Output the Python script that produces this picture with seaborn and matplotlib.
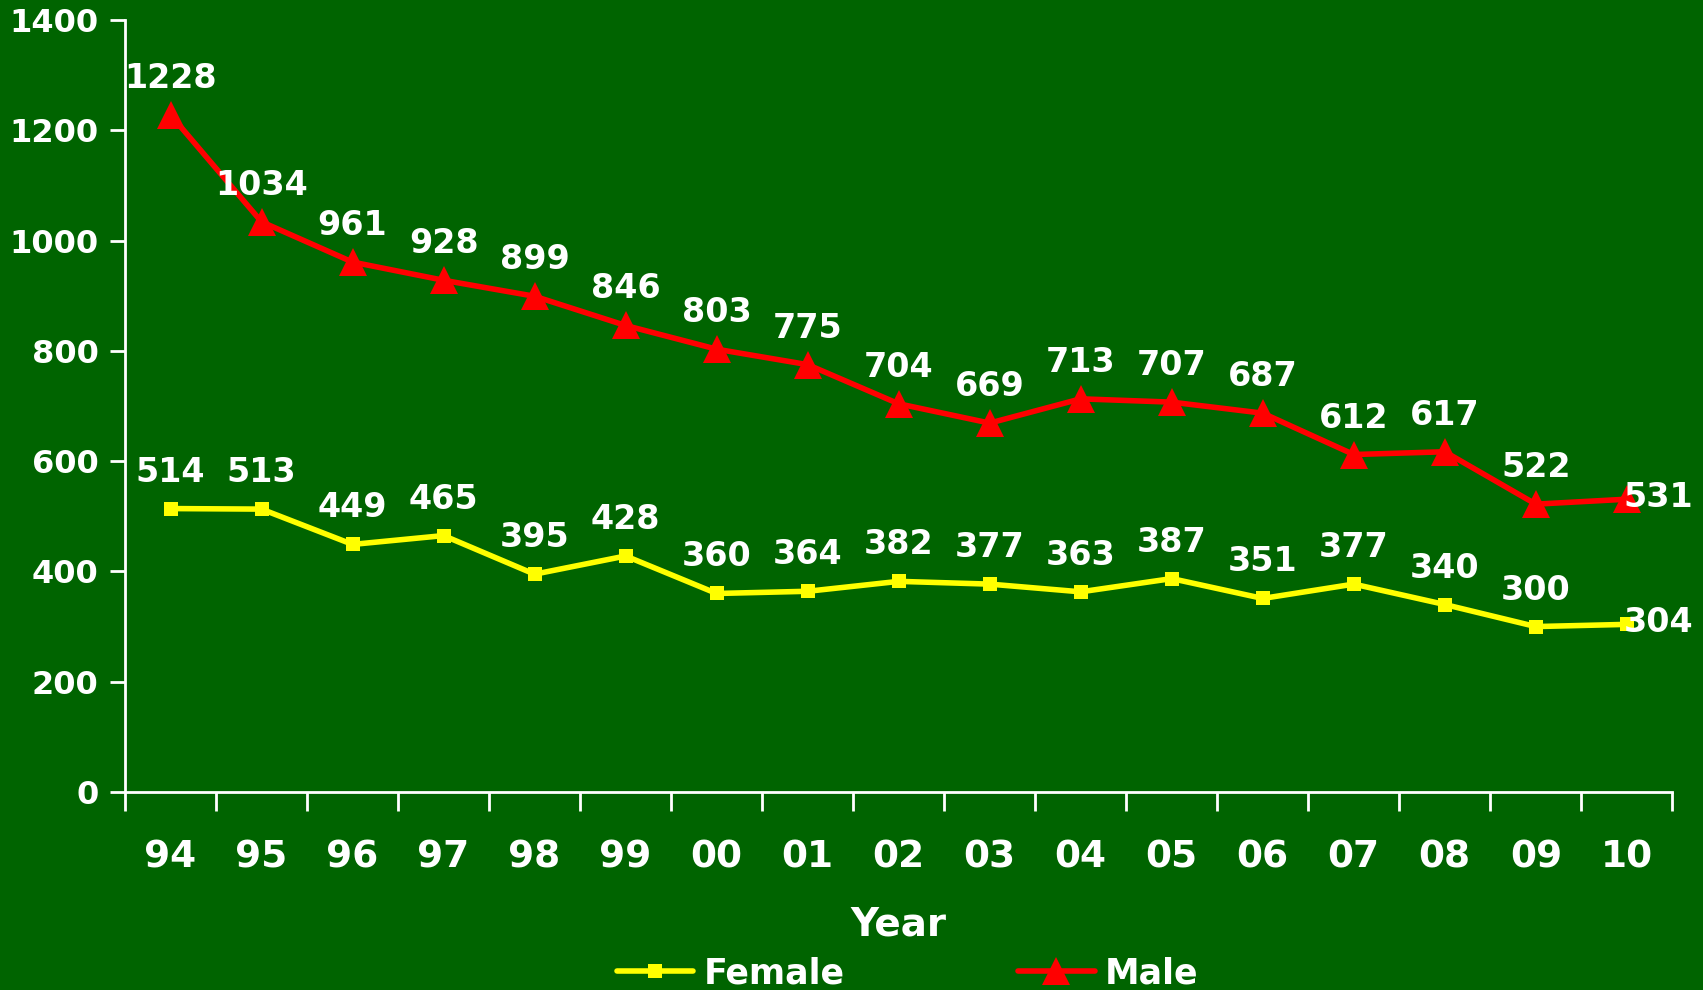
import numpy as np
import pandas as pd
import matplotlib.pyplot as plt
import seaborn as sns

# data
years = ['94', '95', '96', '97', '98', '99', '00', '01', '02', '03',
         '04', '05', '06', '07', '08', '09', '10']
female = [514, 513, 449, 465, 395, 428, 360, 364, 382, 377,
          363, 387, 351, 377, 340, 300, 304]
male = [1228, 1034, 961, 928, 899, 846, 803, 775, 704, 669,
        713, 707, 687, 612, 617, 522, 531]

bg = '#006400'
sns.set_theme(style='white')
plt.rcParams['font.family'] = ['DejaVu Sans']
plt.rcParams['font.weight'] = 'bold'

fig = plt.figure(figsize=(17.03, 9.9), dpi=100, facecolor=bg)
ax = fig.add_axes([0.0734, 0.2, 0.9086, 0.7798], facecolor=bg)

df_f = pd.DataFrame({'Year': years, 'Value': female})
df_m = pd.DataFrame({'Year': years, 'Value': male})

sns.lineplot(data=df_f, x='Year', y='Value', ax=ax, color='#FFFF00', linewidth=4,
             marker='s', markersize=10, markeredgewidth=0, label='Female', sort=False)
sns.lineplot(data=df_m, x='Year', y='Value', ax=ax, color='#FF0000', linewidth=4,
             marker='^', markersize=20, markeredgewidth=0, label='Male', sort=False)

# data labels
n = len(years)
for series in (female, male):
    for i, v in enumerate(series):
        if i == n - 1:
            ax.annotate(str(v), (i, v), xytext=(-3, 2), textcoords='offset pixels',
                        ha='left', va='center', color='white', fontsize=24, fontweight='bold')
        else:
            ax.annotate(str(v), (i, v), xytext=(0, 20), textcoords='offset pixels',
                        ha='center', va='bottom', color='white', fontsize=24, fontweight='bold')

ax.set_xlim(-0.5, n - 0.5)
ax.set_ylim(0, 1400)
ax.set_yticks(np.arange(0, 1401, 200))
ax.set_xticks(range(n))
ax.set_xticklabels(years)
ax.set_xticks(np.arange(-0.5, n, 1), minor=True)

ax.tick_params(axis='x', which='major', bottom=True, length=0, pad=34, labelsize=27,
               labelcolor='white')
ax.tick_params(axis='x', which='minor', bottom=True, length=14, width=2, color='white',
               direction='out')
ax.tick_params(axis='y', length=11, width=2, color='white', direction='out', left=True,
               labelsize=23, labelcolor='white', pad=8)
for lab in ax.get_xticklabels() + ax.get_yticklabels():
    lab.set_fontweight('bold')

for side in ('top', 'right'):
    ax.spines[side].set_visible(False)
for side in ('left', 'bottom'):
    ax.spines[side].set_color('white')
    ax.spines[side].set_linewidth(2)

ax.set_xlabel('Year', fontsize=28, fontweight='bold', color='white', labelpad=22)
ax.set_ylabel('')

handles, labels = ax.get_legend_handles_labels()
ax.get_legend().remove()
leg = fig.legend(handles, labels, loc='center', bbox_to_anchor=(0.533, 0.017), ncol=2,
                 frameon=False, handlelength=2.2, handletextpad=0.3,
                 columnspacing=5.0, labelcolor='white', prop={'weight': 'bold', 'size': 25})

fig.savefig('out.png', dpi=100, facecolor=bg)
